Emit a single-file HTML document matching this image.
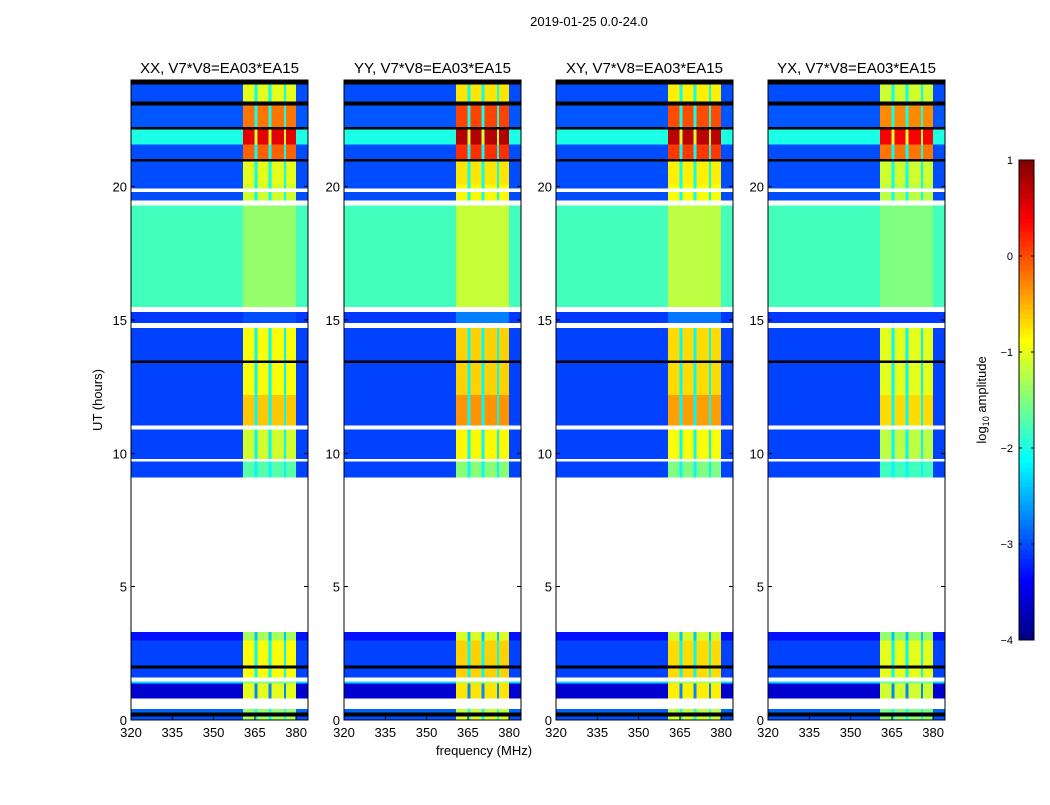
<!DOCTYPE html>
<html><head><meta charset="utf-8"><style>
body{margin:0;background:#fff;}
svg text{font-family:"Liberation Sans",sans-serif;}
</style></head><body>
<svg id="chart" width="1050" height="800" viewBox="0 0 1050 800" xmlns="http://www.w3.org/2000/svg" shape-rendering="crispEdges">
<text x="589" y="26" font-size="13" text-anchor="middle">2019-01-25 0.0-24.0</text>
<text x="484" y="755" font-size="13" text-anchor="middle">frequency (MHz)</text>
<text transform="translate(102,400) rotate(-90)" font-size="13" text-anchor="middle">UT (hours)</text>
<g id="panels"></g>
<g id="cbar"></g>
<text transform="translate(986,400) rotate(-90)" font-size="13" text-anchor="middle">log<tspan font-size="9" dy="3">10</tspan><tspan dy="-3"> amplitude</tspan></text>
</svg>
<script>
// ---- data ----
const panelNames = ["XX, V7*V8=EA03*EA15","YY, V7*V8=EA03*EA15","XY, V7*V8=EA03*EA15","YX, V7*V8=EA03*EA15"];
const panelBandOffset = [0, 0.25, 0.2, -0.1];
// time segments (hours); bg/band in log10 amplitude; null = flagged (white); "k" = black line
const segStart = [0,0.15,0.3,0.42,0.82,1.38,1.45,1.6,1.95,2.05,3.0,3.3,9.1,9.7,9.8,10.9,11.05,12.2,13.4,13.5,14.7,14.9,15.3,15.5,19.3,19.5,19.8,19.95,20.1,20.95,21.05,21.6,22.15,22.25,23.05,23.2,23.85];
const segEnd   = [0.15,0.3,0.42,0.82,1.38,1.45,1.6,1.95,2.05,3.0,3.3,9.1,9.7,9.8,10.9,11.05,12.2,13.4,13.5,14.7,14.9,15.3,15.5,19.3,19.5,19.8,19.95,20.1,20.95,21.05,21.6,22.15,22.25,23.05,23.2,23.85,24];
const segBg    = [-3.0,"k",-2.9,null,-3.6,-2.3,null,-3.05,"k",-3.05,-3.3,null,-3.05,null,-3.05,null,-3.05,-3.05,"k",-3.05,null,-3.1,null,-1.8,null,-3.0,null,-3.0,-3.0,"k",-3.0,-2.0,"k",-2.95,"k",-3.0,"k"];
const segBand  = [-1.3,"k",-1.4,null,-1.0,-1.5,null,-0.9,"k",-0.9,-1.3,null,-1.7,null,-1.1,null,-0.6,-0.9,"k",-0.9,null,-3.0,null,-1.4,null,-1.1,null,-1.1,-1.0,"k",-0.1,0.5,"k",-0.2,"k",-1.0,"k"];
// frequency columns (MHz): 0 = background, 1 = RFI band, 2 = band gap
const colStart = [320,360.7,364.9,366.0,370.0,371.0,375.5,376.3,380.0];
const colEnd   = [360.7,364.9,366.0,370.0,371.0,375.5,376.3,380.0,384.3];
const colType  = [0,1,2,1,2,1,2,1,0];
const cbTicks = [1,0,-1,-2,-3,-4];
const yTicks = [0,5,10,15,20];
const xTicks = [320,335,350,365,380];
// ---- helpers ----
const NS="http://www.w3.org/2000/svg";
const panelX=[131,344,556,768], PW=177, PT=80, PB=720;
const fMin=320,fMax=384.3,tMin=0,tMax=24,vMin=-4,vMax=1;
function jet(v){let t=(v-vMin)/(vMax-vMin);t=Math.max(0,Math.min(1,t));
 const f=x=>Math.max(0,Math.min(1,x));
 const r=f(Math.min(4*t-1.5,-4*t+4.5)),g=f(Math.min(4*t-0.5,-4*t+3.5)),b=f(Math.min(4*t+0.5,-4*t+2.5));
 return `rgb(${Math.round(r*255)},${Math.round(g*255)},${Math.round(b*255)})`;}
function mk(tag,attrs,parent){const e=document.createElementNS(NS,tag);for(const k in attrs)e.setAttribute(k,attrs[k]);parent.appendChild(e);return e;}
const root=document.getElementById('panels');
panelNames.forEach((name,p)=>{
 const x0=panelX[p];
 const xs=f=>x0+(f-fMin)/(fMax-fMin)*PW;
 const ys=t=>PB-(t-tMin)/(tMax-tMin)*(PB-PT);
 const g=mk('g',{},root);
 
 
 const t=mk('text',{x:x0+PW/2,y:73,'font-size':15,'text-anchor':'middle'},g);t.textContent=name;
 
 
 segStart.forEach((s,i)=>{
  if(segBg[i]===null)return;
  colStart.forEach((c,j)=>{
   let fill;
   if(segBg[i]==="k")fill="#000";
   else{const bg=segBg[i],bd=segBand[i]+panelBandOffset[p];
    const v=colType[j]===0?bg:colType[j]===1?bd:Math.min(bd,bg+0.9); fill=jet(v);}
   const r=mk('rect',{x:xs(c),y:ys(segEnd[i]),width:xs(colEnd[j])-xs(c)+0.3,height:ys(s)-ys(segEnd[i])+0.3,fill:fill},g);
   
   
  });
 });
 mk('rect',{x:x0,y:PT,width:PW,height:PB-PT,fill:'none',stroke:'#000','stroke-width':1},g);
 yTicks.forEach(v=>{const y=ys(v);
  mk('line',{x1:x0,x2:x0+4,y1:y,y2:y,stroke:'#000'},g);mk('line',{x1:x0+PW-4,x2:x0+PW,y1:y,y2:y,stroke:'#000'},g);
  const l=mk('text',{x:x0-4,y:y+5,'font-size':13,'text-anchor':'end'},g);l.textContent=v;
  
  });
 xTicks.forEach(v=>{const x=xs(v);
  mk('line',{x1:x,x2:x,y1:PB,y2:PB-4,stroke:'#000'},g);mk('line',{x1:x,x2:x,y1:PT,y2:PT+4,stroke:'#000'},g);
  const l=mk('text',{x:x,y:737,'font-size':13,'text-anchor':'middle'},g);l.textContent=v;
  
  });
});
// colorbar
const cb=document.getElementById('cbar');const cx=1019,cw=15,ct=160,cbot=640;
const cy=v=>cbot-(v-vMin)/(vMax-vMin)*(cbot-ct);
for(let i=0;i<100;i++){const v0=vMin+i*(vMax-vMin)/100,v1=v0+(vMax-vMin)/100;
 const r=mk('rect',{x:cx,y:cy(v1),width:cw,height:cy(v0)-cy(v1)+0.5,fill:jet((v0+v1)/2)},cb);
 
 }
mk('rect',{x:cx,y:ct,width:cw,height:cbot-ct,fill:'none',stroke:'#000'},cb);
cbTicks.forEach(v=>{const y=cy(v);
 mk('line',{x1:cx,x2:cx+3,y1:y,y2:y,stroke:'#000'},cb);mk('line',{x1:cx+cw-3,x2:cx+cw,y1:y,y2:y,stroke:'#000'},cb);
 const l=mk('text',{x:1013,y:y+4,'font-size':11,'text-anchor':'end'},cb);l.textContent=v<0?'\u2212'+(-v):v;
 
 });
</script>
</body></html>
